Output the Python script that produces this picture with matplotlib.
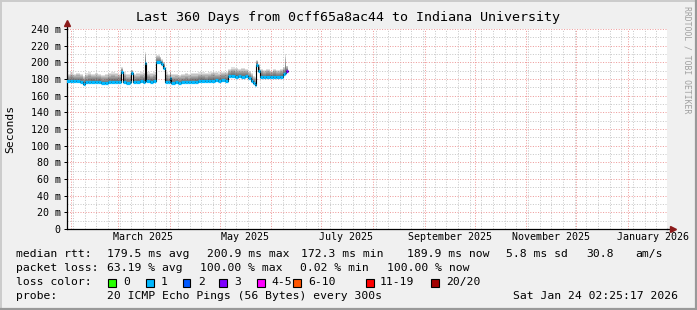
import matplotlib
matplotlib.use("Agg")
import matplotlib.pyplot as plt
import matplotlib.dates as mdates
from matplotlib.lines import Line2D
from matplotlib.patches import Rectangle
from matplotlib.ticker import MultipleLocator, FixedLocator, NullFormatter
import numpy as np
import pandas as pd

plt.rcParams['font.family'] = ['DejaVu Sans Mono', 'DejaVu Sans']

# ---------------- data ----------------
title = "Last 360 Days from 0cff65a8ac44 to Indiana University"
graph_end = "2026-01-24 02:25:17"
span_days = 360

sample_dates = [
    "2025-01-29", "2025-01-31", "2025-02-02", "2025-02-04", "2025-02-06",
    "2025-02-08", "2025-02-09", "2025-02-11", "2025-02-13", "2025-02-15",
    "2025-02-17", "2025-02-19", "2025-02-21", "2025-02-23", "2025-02-25",
    "2025-02-27", "2025-03-01", "2025-03-03", "2025-03-04", "2025-03-06",
    "2025-03-08", "2025-03-09", "2025-03-10", "2025-03-12", "2025-03-14",
    "2025-03-16", "2025-03-17", "2025-03-18", "2025-03-20", "2025-03-22",
    "2025-03-24", "2025-03-26", "2025-03-27", "2025-03-28", "2025-03-29",
    "2025-03-31", "2025-04-01", "2025-04-02", "2025-04-04", "2025-04-06",
    "2025-04-08", "2025-04-10", "2025-04-12", "2025-04-14", "2025-04-16",
    "2025-04-18", "2025-04-20", "2025-04-22", "2025-04-24", "2025-04-26",
    "2025-04-28", "2025-04-30", "2025-05-02", "2025-05-04", "2025-05-06",
    "2025-05-08", "2025-05-10", "2025-05-12", "2025-05-14", "2025-05-16",
    "2025-05-18", "2025-05-20", "2025-05-21", "2025-05-22", "2025-05-23",
    "2025-05-24", "2025-05-25", "2025-05-27", "2025-05-29", "2025-05-31",
    "2025-06-02", "2025-06-04", "2025-06-06", "2025-06-08", "2025-06-09",
    "2025-06-10", "2025-06-11",
]
median_ms = [
    178.0, 177.6, 178.0, 177.4, 176.8,
    174.4, 175.8, 176.4, 177.0, 176.2,
    177.0, 174.8, 175.0, 176.6, 177.0,
    176.8, 176.6, 188.5, 176.8, 175.4,
    175.8, 186.8, 176.4, 176.8, 177.2,
    176.8, 198.8, 177.2, 177.0, 177.4,
    200.9, 200.4, 197.6, 193.5, 177.0,
    176.0, 181.0, 175.4, 175.8, 175.2,
    175.8, 176.2, 175.8, 176.4, 177.0,
    177.8, 178.0, 177.6, 178.2, 178.0,
    178.4, 178.0, 178.6, 178.2, 183.6,
    184.0, 183.0, 183.4, 183.0, 183.6,
    181.0, 178.0, 175.5, 172.3, 197.0,
    190.0, 183.0, 182.8, 183.0, 182.8,
    183.0, 182.8, 183.0, 185.5, 187.5,
    189.9, 189.9,
]
smoke_top_ms = [
    186, 188, 186, 187, 186,
    184, 187, 188, 186, 187,
    186, 185, 186, 187, 188,
    187, 186, 194, 188, 186,
    187, 191, 186, 187, 188,
    187, 212, 188, 187, 188,
    209, 207, 204, 200, 188,
    186, 190, 186, 186, 185,
    186, 187, 186, 187, 187,
    188, 188, 187, 188, 189,
    188, 188, 189, 189, 192,
    194, 193, 192, 193, 192,
    190, 187, 184, 182, 203,
    198, 192, 191, 192, 190,
    192, 191, 192, 195, 210,
    196, 196,
]
loss_count = [1] * 75 + [3, 3]

loss_labels = ["0", "1", "2", "3", "4-5", "6-10", "11-19", "20/20"]
loss_upper = [0, 1, 2, 3, 5, 10, 19, 20]
loss_colors = ["#26ff00", "#00b8ff", "#0059ff", "#7e00ff",
               "#ff00ff", "#ff5500", "#ff0000", "#a10000"]

y_tick_values = [0, 20, 40, 60, 80, 100, 120, 140, 160, 180, 200, 220, 240]
y_tick_labels = ["0", "20 m", "40 m", "60 m", "80 m", "100 m", "120 m",
                 "140 m", "160 m", "180 m", "200 m", "220 m", "240 m"]

month_label_dates = ["2025-03-16", "2025-05-16", "2025-07-16",
                     "2025-09-16", "2025-11-16", "2026-01-16"]
month_labels = ["March 2025", "May 2025", "July 2025",
                "September 2025", "November 2025", "January 2026"]

rtt_items = ["median rtt:", "179.5 ms avg", "200.9 ms max", "172.3 ms min",
             "189.9 ms now", "5.8 ms sd", "30.8", "am/s"]
loss_items = ["packet loss:", "63.19 % avg", "100.00 % max", "0.02 % min",
              "100.00 % now"]
probe_items = ["probe:", "20 ICMP Echo Pings (56 Bytes) every 300s"]
stamp = "Sat Jan 24 02:25:17 2026"

# ---------------- layout ----------------
W, H, DPI = 697, 310, 100
L, R, T, B = 66.5, 666.5, 29, 229
fig = plt.figure(figsize=(W / DPI, H / DPI), dpi=DPI, facecolor="#f0f0f0")
ax = fig.add_axes([L / W, 1 - B / H, (R - L) / W, (B - T) / H])
ax.set_facecolor("white")

t = pd.to_datetime(sample_dates)
med = np.array(median_ms, float)
top = np.array(smoke_top_ms, float)

end = pd.Timestamp(graph_end)
start = end - pd.Timedelta(days=span_days)
ax.set_xlim(start, end)
ax.set_ylim(0, 240)

# grids
ax.xaxis.set_major_locator(mdates.MonthLocator())
ax.xaxis.set_minor_locator(mdates.WeekdayLocator(byweekday=mdates.SU))
ax.xaxis.set_major_formatter(NullFormatter())
ax.yaxis.set_major_locator(FixedLocator(y_tick_values))
ax.yaxis.set_minor_locator(MultipleLocator(10))
ax.set_yticklabels(y_tick_labels)
dot = (0, (1, 1.6))
ax.grid(which="minor", axis="both", color="#c8c8c8", lw=0.72, ls=dot, zorder=0)
ax.grid(which="major", axis="both", color="#ee9a9a", lw=0.72, ls=dot, zorder=0)
ax.set_axisbelow(True)
ax.tick_params(axis="x", which="both", length=0)
ax.tick_params(axis="y", which="major", length=2.2, width=0.72, pad=2.0,
               labelsize=7.2, color="black")
ax.tick_params(axis="y", which="minor", length=0)

for s in ["top", "right"]:
    ax.spines[s].set_visible(False)
for s in ["left", "bottom"]:
    ax.spines[s].set_linewidth(0.9)
    ax.spines[s].set_color("black")

# smoke
layers = 7
for k in range(1, layers + 1):
    upper = med + (top - med) * k / layers
    ax.fill_between(t, med - 0.3, upper, step="post", color="#3c3c3c",
                    alpha=0.16, lw=0, zorder=2)

# median line: black thin + loss coloured band
ax.step(t, med, where="post", color="black", lw=0.8, zorder=3)

def loss_color(n):
    for up, c in zip(loss_upper, loss_colors):
        if n <= up:
            return c
    return loss_colors[-1]

for i in range(len(t) - 1):
    ax.hlines(med[i], t[i], t[i + 1], colors=loss_color(loss_count[i]),
              lw=2.3, zorder=4, capstyle="butt")

# month labels
for d, lab in zip(month_label_dates, month_labels):
    ax.annotate(lab, xy=(pd.Timestamp(d), 0), xycoords=("data", "axes fraction"),
                xytext=(0, -6.0), textcoords="offset points",
                ha="center", va="center", fontsize=7.2)

# axis arrows
arrow_c = "#8b1a1a"
ax.plot([1.0, 1.008], [0, 0], transform=ax.transAxes, color="black",
        lw=0.9, clip_on=False, zorder=5)
ax.plot([1.010], [0], marker=">", ms=4.2, color=arrow_c,
        transform=ax.transAxes, clip_on=False, zorder=6)
ax.plot([0, 0], [1.0, 1.02], transform=ax.transAxes, color="black",
        lw=0.9, clip_on=False, zorder=5)
ax.plot([0], [1.03], marker="^", ms=4.2, color=arrow_c,
        transform=ax.transAxes, clip_on=False, zorder=6)

# title and labels
def ftext(x, y, s, **kw):
    kw.setdefault("fontsize", 8.2)
    kw.setdefault("va", "center")
    fig.text(x / W, 1 - y / H, s, **kw)

ftext(W / 2, 18, title, fontsize=9.6, ha="center")
ftext(10, 129, "Seconds", rotation=90, ha="center")
ftext(687, 60, "RRDTOOL / TOBI OETIKER", rotation=270, ha="center",
      fontsize=5.9, color="#a0a0a0")

rtt_x = [16, 107, 207, 301, 407.5, 506, 586.5, 635]
for x, s in zip(rtt_x, rtt_items):
    ftext(x, 254, s)
loss_x = [16, 107, 199.5, 300, 386.5]
for x, s in zip(loss_x, loss_items):
    ftext(x, 268, s)
ftext(16, 282, "loss color:")
box_x = [108.3, 145.7, 182.7, 219.3, 256.7, 293.3, 365.7, 430.7]
lab_x = [123.3, 161, 197.7, 234.3, 271.7, 308.3, 380, 446]
for bx, lx, c, lab in zip(box_x, lab_x, loss_colors, loss_labels):
    fig.add_artist(Rectangle((bx / W, 1 - 286.5 / H), 7.8 / W, 7.8 / H,
                             transform=fig.transFigure, facecolor=c,
                             edgecolor="black", lw=0.8))
    ftext(lx, 282, lab)
probe_x = [16, 107]
for x, s in zip(probe_x, probe_items):
    ftext(x, 296, s)
ftext(513, 296, stamp)

# 3D border
fig.add_artist(Line2D([0, 1], [1 - 0.5 / H, 1 - 0.5 / H], transform=fig.transFigure,
                      color="#cbcbcb", lw=1.4))
fig.add_artist(Line2D([0.5 / W, 0.5 / W], [0, 1], transform=fig.transFigure,
                      color="#cbcbcb", lw=1.4))
fig.add_artist(Line2D([0, 1], [1 / H, 1 / H], transform=fig.transFigure,
                      color="#999999", lw=1.6))
fig.add_artist(Line2D([1 - 1 / W, 1 - 1 / W], [0, 1], transform=fig.transFigure,
                      color="#999999", lw=1.6))

fig.savefig("out.png", dpi=DPI, facecolor=fig.get_facecolor())
